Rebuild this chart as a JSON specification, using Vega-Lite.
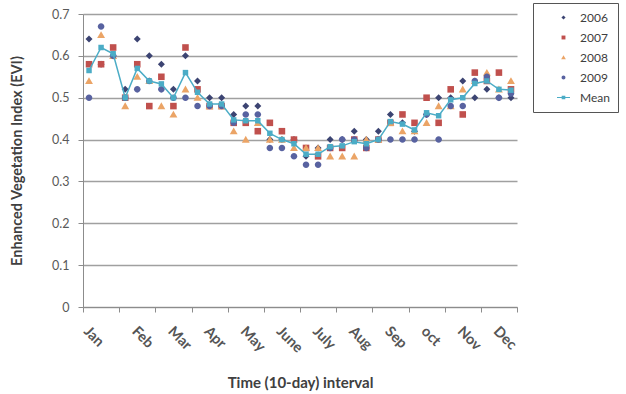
{
  "$schema": "https://vega.github.io/schema/vega-lite/v6.json",
  "width": 434,
  "height": 293,
  "autosize": {"type": "none"},
  "padding": {"left": 83, "top": 14, "right": 109, "bottom": 87},
  "background": "white",
  "config": {
    "font": "Lato",
    "view": {"stroke": null},
    "axis": {"domainColor": "#8C8C8C", "tickColor": "#8C8C8C", "labelColor": "#595959", "titleColor": "#404040"}
  },
  "data": {"values": [
    {"i":0,"s":"2006","v":0.64},{"i":0,"s":"2007","v":0.58},{"i":0,"s":"2008","v":0.54},{"i":0,"s":"2009","v":0.50},{"i":0,"s":"Mean","v":0.565},
    {"i":1,"s":"2006","v":0.58},{"i":1,"s":"2007","v":0.58},{"i":1,"s":"2008","v":0.65},{"i":1,"s":"2009","v":0.67},{"i":1,"s":"Mean","v":0.62},
    {"i":2,"s":"2006","v":0.60},{"i":2,"s":"2007","v":0.62},{"i":2,"s":"2008","v":0.60},{"i":2,"s":"2009","v":0.60},{"i":2,"s":"Mean","v":0.605},
    {"i":3,"s":"2006","v":0.52},{"i":3,"s":"2007","v":0.50},{"i":3,"s":"2008","v":0.48},{"i":3,"s":"2009","v":0.50},{"i":3,"s":"Mean","v":0.50},
    {"i":4,"s":"2006","v":0.64},{"i":4,"s":"2007","v":0.58},{"i":4,"s":"2008","v":0.55},{"i":4,"s":"2009","v":0.52},{"i":4,"s":"Mean","v":0.57},
    {"i":5,"s":"2006","v":0.60},{"i":5,"s":"2007","v":0.48},{"i":5,"s":"2008","v":0.54},{"i":5,"s":"2009","v":0.54},{"i":5,"s":"Mean","v":0.54},
    {"i":6,"s":"2006","v":0.58},{"i":6,"s":"2007","v":0.55},{"i":6,"s":"2008","v":0.48},{"i":6,"s":"2009","v":0.52},{"i":6,"s":"Mean","v":0.533},
    {"i":7,"s":"2006","v":0.52},{"i":7,"s":"2007","v":0.48},{"i":7,"s":"2008","v":0.46},{"i":7,"s":"2009","v":0.50},{"i":7,"s":"Mean","v":0.50},
    {"i":8,"s":"2006","v":0.60},{"i":8,"s":"2007","v":0.62},{"i":8,"s":"2008","v":0.52},{"i":8,"s":"2009","v":0.50},{"i":8,"s":"Mean","v":0.56},
    {"i":9,"s":"2006","v":0.54},{"i":9,"s":"2007","v":0.52},{"i":9,"s":"2008","v":0.50},{"i":9,"s":"2009","v":0.48},{"i":9,"s":"Mean","v":0.513},
    {"i":10,"s":"2006","v":0.50},{"i":10,"s":"2007","v":0.48},{"i":10,"s":"2008","v":0.48},{"i":10,"s":"2009","v":0.48},{"i":10,"s":"Mean","v":0.485},
    {"i":11,"s":"2006","v":0.50},{"i":11,"s":"2007","v":0.48},{"i":11,"s":"2008","v":0.48},{"i":11,"s":"2009","v":0.48},{"i":11,"s":"Mean","v":0.485},
    {"i":12,"s":"2006","v":0.46},{"i":12,"s":"2007","v":0.44},{"i":12,"s":"2008","v":0.42},{"i":12,"s":"2009","v":0.44},{"i":12,"s":"Mean","v":0.447},
    {"i":13,"s":"2006","v":0.48},{"i":13,"s":"2007","v":0.44},{"i":13,"s":"2008","v":0.40},{"i":13,"s":"2009","v":0.46},{"i":13,"s":"Mean","v":0.445},
    {"i":14,"s":"2006","v":0.48},{"i":14,"s":"2007","v":0.42},{"i":14,"s":"2008","v":0.44},{"i":14,"s":"2009","v":0.46},{"i":14,"s":"Mean","v":0.445},
    {"i":15,"s":"2006","v":0.40},{"i":15,"s":"2007","v":0.44},{"i":15,"s":"2008","v":0.40},{"i":15,"s":"2009","v":0.38},{"i":15,"s":"Mean","v":0.415},
    {"i":16,"s":"2006","v":0.40},{"i":16,"s":"2007","v":0.42},{"i":16,"s":"2008","v":0.40},{"i":16,"s":"2009","v":0.38},{"i":16,"s":"Mean","v":0.40},
    {"i":17,"s":"2006","v":0.40},{"i":17,"s":"2007","v":0.40},{"i":17,"s":"2008","v":0.38},{"i":17,"s":"2009","v":0.36},{"i":17,"s":"Mean","v":0.39},
    {"i":18,"s":"2006","v":0.36},{"i":18,"s":"2007","v":0.38},{"i":18,"s":"2008","v":0.38},{"i":18,"s":"2009","v":0.34},{"i":18,"s":"Mean","v":0.365},
    {"i":19,"s":"2006","v":0.38},{"i":19,"s":"2007","v":0.36},{"i":19,"s":"2008","v":0.38},{"i":19,"s":"2009","v":0.34},{"i":19,"s":"Mean","v":0.365},
    {"i":20,"s":"2006","v":0.40},{"i":20,"s":"2007","v":0.38},{"i":20,"s":"2008","v":0.36},{"i":20,"s":"2009","v":0.38},{"i":20,"s":"Mean","v":0.383},
    {"i":21,"s":"2006","v":0.40},{"i":21,"s":"2007","v":0.38},{"i":21,"s":"2008","v":0.36},{"i":21,"s":"2009","v":0.40},{"i":21,"s":"Mean","v":0.385},
    {"i":22,"s":"2006","v":0.42},{"i":22,"s":"2007","v":0.40},{"i":22,"s":"2008","v":0.36},{"i":22,"s":"2009","v":0.40},{"i":22,"s":"Mean","v":0.395},
    {"i":23,"s":"2006","v":0.40},{"i":23,"s":"2007","v":0.38},{"i":23,"s":"2008","v":0.40},{"i":23,"s":"2009","v":0.38},{"i":23,"s":"Mean","v":0.39},
    {"i":24,"s":"2006","v":0.42},{"i":24,"s":"2007","v":0.40},{"i":24,"s":"2008","v":0.40},{"i":24,"s":"2009","v":0.40},{"i":24,"s":"Mean","v":0.40},
    {"i":25,"s":"2006","v":0.46},{"i":25,"s":"2007","v":0.44},{"i":25,"s":"2008","v":0.44},{"i":25,"s":"2009","v":0.40},{"i":25,"s":"Mean","v":0.443},
    {"i":26,"s":"2006","v":0.44},{"i":26,"s":"2007","v":0.46},{"i":26,"s":"2008","v":0.42},{"i":26,"s":"2009","v":0.40},{"i":26,"s":"Mean","v":0.437},
    {"i":27,"s":"2006","v":0.42},{"i":27,"s":"2007","v":0.44},{"i":27,"s":"2008","v":0.42},{"i":27,"s":"2009","v":0.40},{"i":27,"s":"Mean","v":0.423},
    {"i":28,"s":"2006","v":0.46},{"i":28,"s":"2007","v":0.50},{"i":28,"s":"2008","v":0.44},{"i":28,"s":"2009","v":0.46},{"i":28,"s":"Mean","v":0.464},
    {"i":29,"s":"2006","v":0.50},{"i":29,"s":"2007","v":0.44},{"i":29,"s":"2008","v":0.48},{"i":29,"s":"2009","v":0.40},{"i":29,"s":"Mean","v":0.457},
    {"i":30,"s":"2006","v":0.50},{"i":30,"s":"2007","v":0.52},{"i":30,"s":"2008","v":0.48},{"i":30,"s":"2009","v":0.48},{"i":30,"s":"Mean","v":0.495},
    {"i":31,"s":"2006","v":0.54},{"i":31,"s":"2007","v":0.46},{"i":31,"s":"2008","v":0.52},{"i":31,"s":"2009","v":0.48},{"i":31,"s":"Mean","v":0.50},
    {"i":32,"s":"2006","v":0.50},{"i":32,"s":"2007","v":0.56},{"i":32,"s":"2008","v":0.54},{"i":32,"s":"2009","v":0.54},{"i":32,"s":"Mean","v":0.534},
    {"i":33,"s":"2006","v":0.52},{"i":33,"s":"2007","v":0.54},{"i":33,"s":"2008","v":0.56},{"i":33,"s":"2009","v":0.55},{"i":33,"s":"Mean","v":0.54},
    {"i":34,"s":"2006","v":0.50},{"i":34,"s":"2007","v":0.56},{"i":34,"s":"2008","v":0.52},{"i":34,"s":"2009","v":0.50},{"i":34,"s":"Mean","v":0.52},
    {"i":35,"s":"2006","v":0.50},{"i":35,"s":"2007","v":0.52},{"i":35,"s":"2008","v":0.54},{"i":35,"s":"2009","v":0.51},{"i":35,"s":"Mean","v":0.518}
  ]},
  "resolve": {"axis": {"x": "independent"}},
  "layer": [
    {
      "transform": [{"filter": "datum.s != 'Mean'"}],
      "mark": {"type": "point", "filled": true, "opacity": 1, "size": 480, "strokeWidth": 0},
      "encoding": {
        "x": {"field": "i", "type": "quantitative", "scale": {"domain": [-0.5, 35.5], "nice": false, "zero": false},
          "axis": {"orient": "bottom", "values": [-0.5,2.5,5.5,8.5,11.5,14.5,17.5,20.5,23.5,26.5,29.5,32.5,35.5], "labels": false, "grid": false, "tickSize": 5, "domainWidth": 1.2, "title": null}},
        "y": {"field": "v", "type": "quantitative", "scale": {"domain": [0, 0.7], "nice": false, "zero": true},
          "axis": {"values": [0,0.1,0.2,0.3,0.4,0.5,0.6,0.7], "labelExpr": "datum.value == 0 ? '0' : format(datum.value, '.1f')", "grid": true, "gridColor": "#A0A0A0", "gridWidth": 1.3, "tickSize": 5, "labelPadding": 9, "labelFontSize": 12.5, "title": "Enhanced Vegetation Index (EVI)", "titleFontSize": 14.5, "titleFontWeight": "bold", "titleX": -66, "titleBaseline": "middle"}},
        "color": {"field": "s", "type": "nominal",
          "scale": {"domain": ["2006","2007","2008","2009","Mean"], "range": ["#3C4472","#C0504D","#EBA466","#5862A0","#4BACC6"]},
          "legend": {"title": null, "orient": "none", "legendX": 450, "legendY": -11, "strokeColor": "#555555", "fillColor": "white", "padding": 8, "symbolOffset": 16, "labelOffset": 10, "labelFontSize": 12, "labelColor": "#404040", "rowPadding": 7, "symbolSize": 169, "symbolStrokeWidth": 0}},
        "shape": {"field": "s", "type": "nominal",
          "scale": {"domain": ["2006","2007","2008","2009","Mean"], "range": [
            "M0,-0.32L0.32,0L0,0.32L-0.32,0Z",
            "M-0.3,-0.3H0.3V0.3H-0.3Z",
            "M0,-0.34L0.36,0.28H-0.36Z",
            "M-0.3,0A0.3,0.3 0 1,0 0.3,0A0.3,0.3 0 1,0 -0.3,0Z",
            "M-1,-0.07H1V0.07H-1ZM-0.28,-0.28H0.28V0.28H-0.28Z"]},
          "legend": {"title": null, "orient": "none", "legendX": 450, "legendY": -11, "strokeColor": "#555555", "fillColor": "white", "padding": 8, "symbolOffset": 16, "labelOffset": 10, "labelFontSize": 12, "labelColor": "#404040", "rowPadding": 7, "symbolSize": 169, "symbolStrokeWidth": 0}}
      }
    },
    {
      "transform": [{"filter": "datum.s == 'Mean'"}],
      "mark": {"type": "line", "color": "#4BACC6", "strokeWidth": 1.5},
      "encoding": {
        "x": {"field": "i", "type": "quantitative",
          "axis": {"orient": "bottom", "values": [0.1,4.1,7.1,10.1,13.1,16.1,19.1,22.1,25.1,28.1,31.1,34.1], "labelExpr": "['Jan','Feb','Mar','Apr','May','June','July','Aug','Sep','oct','Nov','Dec'][datum.value < 1 ? 0 : round((datum.value - 1.1) / 3)]", "ticks": false, "tickSize": 0, "domain": false, "grid": false, "labelAngle": 45, "labelAlign": "left", "labelBaseline": "top", "labelPadding": 17, "labelFlush": false, "labelOverlap": false, "labelFontSize": 14.5, "labelFontWeight": "bold", "labelColor": "#555555", "title": "Time (10-day) interval", "titleFontSize": 15, "titleFontWeight": "bold", "titleY": 75, "titleBaseline": "middle"}},
        "y": {"field": "v", "type": "quantitative"}
      }
    },
    {
      "transform": [{"filter": "datum.s == 'Mean'"}],
      "mark": {"type": "square", "color": "#4BACC6", "opacity": 1, "size": 30},
      "encoding": {
        "x": {"field": "i", "type": "quantitative", "axis": null},
        "y": {"field": "v", "type": "quantitative"}
      }
    }
  ]
}
